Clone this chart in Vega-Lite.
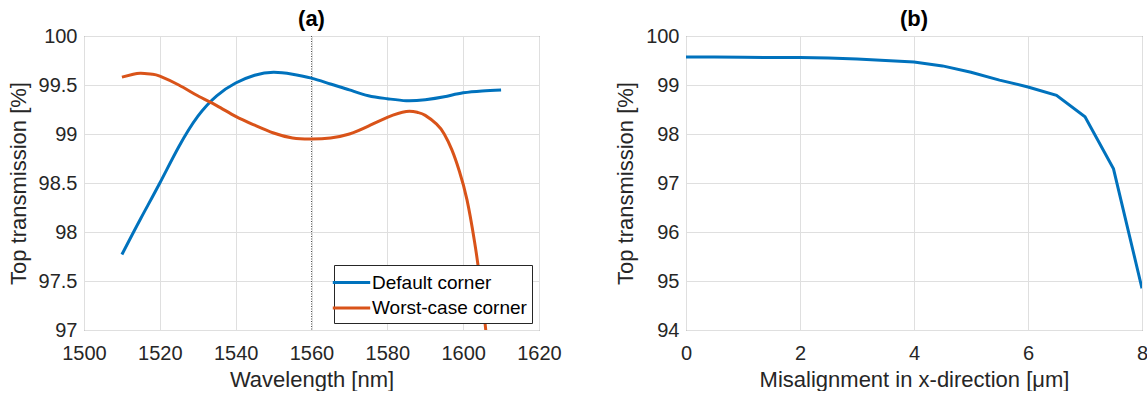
{
  "$schema": "https://vega.github.io/schema/vega-lite/v6.json",
  "background": "white",
  "padding": {"left": 6, "top": 7, "right": 0, "bottom": 0},
  "datasets": {
    "a": [
      {"nm": 1510, "T": 97.77, "series": "Default corner"},
      {"nm": 1515, "T": 98.14, "series": "Default corner"},
      {"nm": 1520, "T": 98.50, "series": "Default corner"},
      {"nm": 1525, "T": 98.87, "series": "Default corner"},
      {"nm": 1530, "T": 99.18, "series": "Default corner"},
      {"nm": 1535, "T": 99.39, "series": "Default corner"},
      {"nm": 1540, "T": 99.52, "series": "Default corner"},
      {"nm": 1545, "T": 99.60, "series": "Default corner"},
      {"nm": 1550, "T": 99.63, "series": "Default corner"},
      {"nm": 1555, "T": 99.61, "series": "Default corner"},
      {"nm": 1560, "T": 99.57, "series": "Default corner"},
      {"nm": 1565, "T": 99.51, "series": "Default corner"},
      {"nm": 1570, "T": 99.45, "series": "Default corner"},
      {"nm": 1575, "T": 99.39, "series": "Default corner"},
      {"nm": 1580, "T": 99.36, "series": "Default corner"},
      {"nm": 1585, "T": 99.34, "series": "Default corner"},
      {"nm": 1590, "T": 99.35, "series": "Default corner"},
      {"nm": 1595, "T": 99.38, "series": "Default corner"},
      {"nm": 1600, "T": 99.42, "series": "Default corner"},
      {"nm": 1605, "T": 99.44, "series": "Default corner"},
      {"nm": 1610, "T": 99.45, "series": "Default corner"},
      {"nm": 1510, "T": 99.58, "series": "Worst-case corner"},
      {"nm": 1513, "T": 99.61, "series": "Worst-case corner"},
      {"nm": 1515, "T": 99.62, "series": "Worst-case corner"},
      {"nm": 1518, "T": 99.61, "series": "Worst-case corner"},
      {"nm": 1520, "T": 99.59, "series": "Worst-case corner"},
      {"nm": 1525, "T": 99.50, "series": "Worst-case corner"},
      {"nm": 1530, "T": 99.39, "series": "Worst-case corner"},
      {"nm": 1535, "T": 99.29, "series": "Worst-case corner"},
      {"nm": 1540, "T": 99.18, "series": "Worst-case corner"},
      {"nm": 1545, "T": 99.09, "series": "Worst-case corner"},
      {"nm": 1550, "T": 99.01, "series": "Worst-case corner"},
      {"nm": 1555, "T": 98.96, "series": "Worst-case corner"},
      {"nm": 1560, "T": 98.95, "series": "Worst-case corner"},
      {"nm": 1565, "T": 98.96, "series": "Worst-case corner"},
      {"nm": 1570, "T": 99.00, "series": "Worst-case corner"},
      {"nm": 1575, "T": 99.08, "series": "Worst-case corner"},
      {"nm": 1580, "T": 99.17, "series": "Worst-case corner"},
      {"nm": 1585, "T": 99.23, "series": "Worst-case corner"},
      {"nm": 1588, "T": 99.22, "series": "Worst-case corner"},
      {"nm": 1590, "T": 99.19, "series": "Worst-case corner"},
      {"nm": 1593, "T": 99.10, "series": "Worst-case corner"},
      {"nm": 1595, "T": 99.00, "series": "Worst-case corner"},
      {"nm": 1597, "T": 98.84, "series": "Worst-case corner"},
      {"nm": 1599, "T": 98.62, "series": "Worst-case corner"},
      {"nm": 1601, "T": 98.33, "series": "Worst-case corner"},
      {"nm": 1603, "T": 97.90, "series": "Worst-case corner"},
      {"nm": 1605, "T": 97.34, "series": "Worst-case corner"},
      {"nm": 1607, "T": 96.60, "series": "Worst-case corner"},
      {"nm": 1608, "T": 96.20, "series": "Worst-case corner"}
    ],
    "marker": [{"nm": 1560}],
    "b": [
      {"dx": 0, "T": 99.57},
      {"dx": 0.5, "T": 99.57},
      {"dx": 1, "T": 99.565},
      {"dx": 1.5, "T": 99.56},
      {"dx": 2, "T": 99.56},
      {"dx": 2.5, "T": 99.55},
      {"dx": 3, "T": 99.53},
      {"dx": 3.5, "T": 99.50},
      {"dx": 4, "T": 99.47},
      {"dx": 4.5, "T": 99.39},
      {"dx": 5, "T": 99.26},
      {"dx": 5.5, "T": 99.10},
      {"dx": 6, "T": 98.96},
      {"dx": 6.5, "T": 98.79},
      {"dx": 7, "T": 98.35},
      {"dx": 7.5, "T": 97.29},
      {"dx": 8, "T": 94.85}
    ]
  },
  "resolve": {"scale": {"color": "independent"}, "legend": {"color": "independent"}},
  "hconcat": [
    {
      "width": 455,
      "height": 294,
      "title": {"text": "(a)", "fontSize": 22, "fontWeight": "bold", "font": "Liberation Sans", "color": "#000000", "anchor": "middle", "offset": -5},
      "layer": [
        {
          "data": {"name": "marker"},
          "mark": {"type": "rule", "color": "#555555", "strokeWidth": 1, "strokeDash": [1, 1.5]},
          "encoding": {
            "x": {"field": "nm", "type": "quantitative", "scale": {"domain": [1500, 1620], "nice": false}}
          }
        },
        {
          "data": {"name": "a"},
          "mark": {"type": "line", "strokeWidth": 3, "interpolate": "natural", "clip": true},
          "encoding": {
            "x": {"field": "nm", "type": "quantitative",
                  "scale": {"domain": [1500, 1620], "nice": false},
                  "axis": {"title": "Wavelength [nm]", "values": [1500, 1520, 1540, 1560, 1580, 1600, 1620], "format": "d", "labelPadding": 13, "titlePadding": 6}},
            "y": {"field": "T", "type": "quantitative",
                  "scale": {"domain": [97, 100], "nice": false, "zero": false},
                  "axis": {"title": "Top transmission [%]", "values": [97, 97.5, 98, 98.5, 99, 99.5, 100], "format": "~f", "labelPadding": 7, "titlePadding": 8}},
            "color": {"field": "series", "type": "nominal",
                      "scale": {"domain": ["Default corner", "Worst-case corner"], "range": ["#0072BD", "#D95319"]},
                      "legend": {"title": null, "orient": "bottom-right", "offset": 7, "fillColor": "white", "strokeColor": "#262626", "padding": 5, "symbolType": "M-1.7,0H1.7", "symbolSize": 484, "symbolStrokeWidth": 3, "labelFontSize": 19, "labelFont": "Liberation Sans", "labelColor": "#000000", "labelOffset": 8, "rowPadding": 2.5}}
          }
        }
      ]
    },
    {
      "width": 456,
      "height": 294,
      "title": {"text": "(b)", "fontSize": 22, "fontWeight": "bold", "font": "Liberation Sans", "color": "#000000", "anchor": "middle", "offset": -5},
      "data": {"name": "b"},
      "mark": {"type": "line", "strokeWidth": 3, "color": "#0072BD", "clip": true},
      "encoding": {
        "x": {"field": "dx", "type": "quantitative",
              "scale": {"domain": [0, 8], "nice": false},
              "axis": {"title": "Misalignment in x-direction [μm]", "values": [0, 2, 4, 6, 8], "format": "d", "labelPadding": 13, "titlePadding": 6}},
        "y": {"field": "T", "type": "quantitative",
              "scale": {"domain": [94, 100], "nice": false, "zero": false},
              "axis": {"title": "Top transmission [%]", "values": [94, 95, 96, 97, 98, 99, 100], "format": "d", "labelPadding": 7, "titlePadding": 8}}
      }
    }
  ],
  "spacing": 52,
  "config": {
    "view": {"stroke": "#666666", "strokeWidth": 1},
    "axis": {
      "labelFont": "Liberation Sans", "labelFontSize": 20, "labelColor": "#262626", "labelFlush": false,
      "titleFont": "Liberation Sans", "titleFontSize": 22, "titleFontWeight": "normal", "titleColor": "#262626",
      "grid": true, "gridColor": "#dfdfdf", "gridWidth": 1,
      "domain": false, "ticks": false
    },
    "legend": {"labelLimit": 400}
  }
}
